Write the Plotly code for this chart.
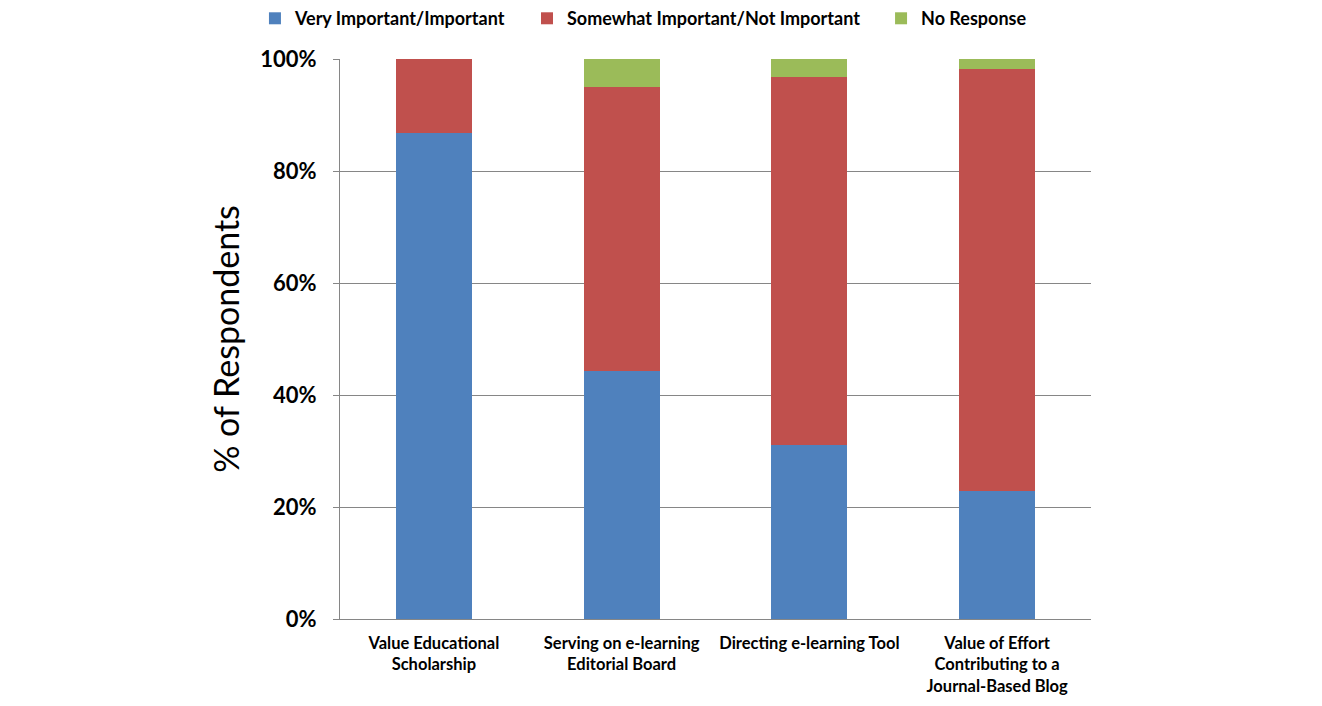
import plotly.graph_objects as go

categories = ["Value Educational<br>Scholarship",
              "Serving on e-learning<br>Editorial Board",
              "Directing e-learning Tool",
              "Value of Effort<br>Contributing to a<br>Journal-Based Blog"]
very_important = [86.8, 44.2, 31.1, 22.9]
somewhat_important = [13.2, 50.8, 65.6, 75.3]
no_response = [0.0, 5.0, 3.3, 1.8]

series_names = ["Very Important/Important", "Somewhat Important/Not Important", "No Response"]
series_values = [very_important, somewhat_important, no_response]
colors = ["#4F81BD", "#C0504D", "#9BBB59"]
legend_ids = ["legend", "legend2", "legend3"]
legend_x = [0.1868, 0.3926, 0.6604]

font_family = "Lato, 'Open Sans', sans-serif"

fig = go.Figure()
for name, vals, c, lg in zip(series_names, series_values, colors, legend_ids):
    fig.add_trace(go.Bar(x=categories, y=vals, name=name, legend=lg,
                         marker=dict(color=c, line=dict(width=0))))

legend_font = dict(size=18, family=font_family, weight="bold", color="black")
legend_common = dict(orientation="h", xref="container", yref="container",
                     y=0.985, yanchor="middle", xanchor="left",
                     font=legend_font, itemwidth=30, bgcolor="rgba(0,0,0,0)")

fig.update_layout(
    barmode="stack",
    bargap=0.595,
    width=1322, height=706,
    margin=dict(l=332, r=239, t=51, b=95, autoexpand=False),
    plot_bgcolor="white", paper_bgcolor="white",
    font=dict(family=font_family, color="black"),
    legend=dict(x=legend_x[0], **legend_common),
    legend2=dict(x=legend_x[1], **legend_common),
    legend3=dict(x=legend_x[2], **legend_common),
    showlegend=True,
)
fig.update_xaxes(showline=True, linecolor="#868686", linewidth=1,
                 tickfont=dict(size=16.5, family=font_family, weight="bold"),
                 ticks="", showgrid=False, ticklabelstandoff=9)
fig.update_yaxes(range=[0, 100], dtick=20, ticksuffix="%",
                 showgrid=True, gridcolor="#868686", gridwidth=1,
                 showline=True, linecolor="#868686", linewidth=1,
                 ticks="outside", ticklen=6, tickcolor="#868686",
                 ticklabelstandoff=12,
                 tickfont=dict(size=22, family=font_family, weight="bold"),
                 title=dict(text="% of Respondents", font=dict(size=34, family=font_family), standoff=10),
                 zeroline=False)

fig.write_html("out.html")
